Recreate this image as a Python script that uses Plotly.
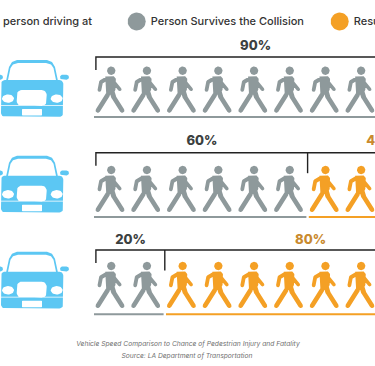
import math
import plotly.graph_objects as go

# ---- data ----
survive_pct = [90, 60, 20]
fatal_pct = [10, 40, 80]
people_per_row = 10
legend_labels = ["Person Survives the Collision", "Results in Fatality"]
header_text = "person driving at"
footer_lines = ["Vehicle Speed Comparison to Chance of Pedestrian Injury and Fatality",
                "Source: LA Department of Transportation"]

# ---- style / layout ----
GREY, ORANGE, BLUE = "#8e999b", "#f4a025", "#5cc7f3"
DARK, DARK_ORANGE = "#3b4040", "#c98a2e"
X0, PITCH = 93.4, 35.7
CAR_TOP = [60, 155.7, 251.7]
HEAD_Y = [70.7, 170, 266]
GROUND_Y = [117, 217, 314.3]
BRACKET_Y = [57, 152.7, 250]
LABEL_Y = [47, 142, 241]
RIGHT = 380


def capsule(p1, p2, w):
    a = math.atan2(p2[1] - p1[1], p2[0] - p1[0])
    pts = []
    for c, start in ((p2, a - math.pi / 2), (p1, a + math.pi / 2)):
        for k in range(9):
            t = start + math.pi * k / 8
            pts.append((c[0] + w / 2 * math.cos(t), c[1] + w / 2 * math.sin(t)))
    pts.append(pts[0])
    return pts


def ellipse(cx, cy, rx, ry):
    return [(cx + rx * math.cos(2 * math.pi * k / 32), cy + ry * math.sin(2 * math.pi * k / 32)) for k in range(33)]


def round_rect(x0, y0, x1, y1, r):
    pts = []
    for cx, cy, s in ((x1 - r, y0 + r, -90), (x1 - r, y1 - r, 0), (x0 + r, y1 - r, 90), (x0 + r, y0 + r, 180)):
        for k in range(7):
            t = math.radians(s + 15 * k)
            pts.append((cx + r * math.cos(t), cy + r * math.sin(t)))
    pts.append(pts[0])
    return pts


PERSON = [
    ellipse(0, 0, 4.2, 4.2),
    capsule((-4.3, 7.8), (-10.2, 11.2), 4.0),
    capsule((-10.2, 11.2), (-11.8, 19.3), 3.8),
    [(-6, 5.8), (2.5, 5.6), (4.6, 8), (4.2, 19), (2.5, 22.5), (-1, 24), (-5, 24), (-5.6, 14), (-6, 5.8)],
    capsule((3, 12), (8.5, 18.6), 3.6),
    capsule((-3.5, 24), (-13.4, 39.8), 4.6),
    capsule((0.5, 20), (2.5, 26.5), 5.0),
    capsule((2.5, 26.5), (10.9, 39.8), 4.6),
]


def add_poly(fig, polys, color):
    xs, ys = [], []
    for p in polys:
        xs += [q[0] for q in p] + [None]
        ys += [q[1] for q in p] + [None]
    fig.add_trace(go.Scatter(x=xs, y=ys, mode="lines", fill="toself", fillcolor=color,
                             line=dict(width=0, color=color), hoverinfo="skip", showlegend=False))


def add_line(fig, xs, ys, color, width):
    fig.add_trace(go.Scatter(x=xs, y=ys, mode="lines", line=dict(color=color, width=width),
                             hoverinfo="skip", showlegend=False))


def add_text(fig, x, y, text, size, color, family="Inter", pos="middle center", weight=None, style=None):
    fig.add_trace(go.Scatter(x=[x], y=[y], mode="text", text=[text], textposition=pos,
                             textfont=dict(size=size, color=color, family=family,
                                           weight=weight or "normal", style=style or "normal"),
                             hoverinfo="skip", showlegend=False))


def shift(poly, dx, dy):
    return [(a + dx, b + dy) for a, b in poly]


def car(fig, top):
    blue = [
        [(6, top + 21), (9, top + 7), (12, top + 2), (17, top), (47, top), (52, top + 2), (55, top + 7), (58, top + 21), (6, top + 21)],
        round_rect(1, top + 20, 63.3, top + 56.8, 4),
        round_rect(60, top + 14.7, 69, top + 19.7, 2.5),
        round_rect(-6, top + 14.7, 3, top + 19.7, 2.5),
    ]
    add_poly(fig, blue, BLUE)
    white = [
        [(8, top + 20), (10.5, top + 8), (13, top + 4.5), (18, top + 3), (46, top + 3), (51, top + 4.5), (53.5, top + 8), (56, top + 20), (8, top + 20)],
        round_rect(16.7, top + 30, 46.7, top + 46, 5),
        ellipse(8, top + 38.6, 6, 4.2),
        ellipse(56.7, top + 38.6, 6, 4.2),
        round_rect(22, top + 49, 42, top + 55.6, 0.5),
        [(1, top + 45), (63.3, top + 45), (63.3, top + 45.8), (1, top + 45.8), (1, top + 45)],
    ]
    add_poly(fig, white, "#ffffff")


fig = go.Figure()

for r, pct in enumerate(survive_pct):
    n_safe = round(pct / 100 * people_per_row)
    car(fig, CAR_TOP[r])
    split = X0 + n_safe * PITCH
    safe, fatal = [], []
    for i in range(people_per_row):
        cx = X0 + (i + 0.5) * PITCH
        (safe if i < n_safe else fatal).extend(shift(p, cx, HEAD_Y[r]) for p in PERSON)
    add_poly(fig, safe, GREY)
    add_poly(fig, fatal, ORANGE)
    # ground lines
    add_line(fig, [X0 + 0.6, split - 1.2], [GROUND_Y[r]] * 2, GREY, 2)
    add_line(fig, [split + 1.2, RIGHT], [GROUND_Y[r]] * 2, ORANGE, 2)
    # bracket
    add_line(fig, [X0 + 2.5, X0 + 2.5, RIGHT], [BRACKET_Y[r] + 13, BRACKET_Y[r], BRACKET_Y[r]], "#222222", 1.4)
    if n_safe < people_per_row - 1:
        add_line(fig, [split, split], [BRACKET_Y[r], BRACKET_Y[r] + 20.5], "#222222", 1.4)
    # labels
    add_text(fig, (X0 + split) / 2 + 1.5, LABEL_Y[r], f"{pct}%", 13, DARK, weight=800)
    if n_safe < people_per_row - 1:
        add_text(fig, (split + X0 + people_per_row * PITCH) / 2 + 3, LABEL_Y[r],
                 f"{fatal_pct[r]}%", 13, DARK_ORANGE, weight=800)

# legend / header
add_text(fig, 3, 22, header_text, 11, "#333333", pos="middle right", weight=500)
for cx, color, label in zip((136.7, 339.7), (GREY, ORANGE), legend_labels):
    add_poly(fig, [ellipse(cx, 21.5, 9, 9)], color)
    add_text(fig, cx + 14, 22, label, 11, "#333333", pos="middle right", weight=500)

# footer
add_text(fig, 188, 344, footer_lines[0], 6.7, "#6f6f6f", style="italic")
add_text(fig, 187, 356.5, footer_lines[1], 6.7, "#6f6f6f", style="italic")

fig.update_layout(
    width=375, height=366, margin=dict(l=0, r=0, t=0, b=0),
    paper_bgcolor="white", plot_bgcolor="white", showlegend=False,
    xaxis=dict(range=[0, 375], visible=False, fixedrange=True),
    yaxis=dict(range=[366, 0], visible=False, fixedrange=True),
)
fig.write_html("out.html", config={"displayModeBar": False},
               post_script="document.body.style.margin='0';document.body.style.overflow='hidden';")
